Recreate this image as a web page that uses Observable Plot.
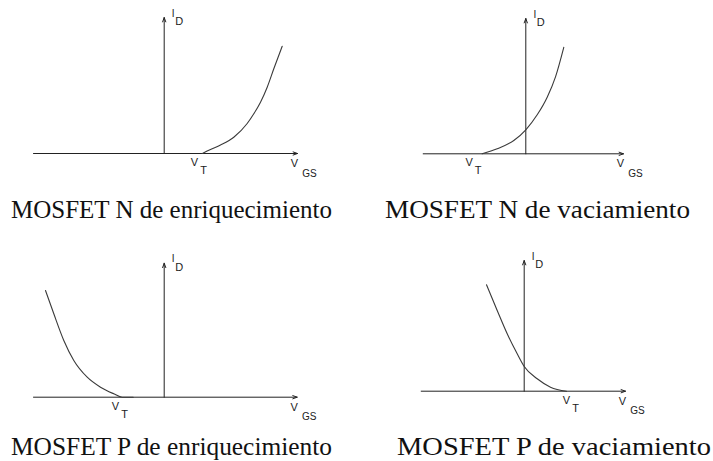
<!DOCTYPE html>
<html>
<head>
<meta charset="utf-8">
<script src="https://cdn.jsdelivr.net/npm/d3@7"></script>
<script src="https://cdn.jsdelivr.net/npm/@observablehq/plot@0.6"></script>
<style>
  body { margin: 0; background: #fff; }
  #fig { position: relative; width: 713px; height: 461px; overflow: hidden; background: #fff; }
  .panel { position: absolute; }
  #captions { position: absolute; left: 0; top: 0; }
  #captions text {
    font-family: "Liberation Serif", "Times New Roman", serif;
    font-size: 26px;
    fill: #111;
  }
</style>
</head>
<body>
<div id="fig"></div>
<script>
// Panel captions
const titles = [
  "MOSFET N de enriquecimiento",
  "MOSFET N de vaciamiento",
  "MOSFET P de enriquecimiento",
  "MOSFET P de vaciamiento"
];

// Threshold voltage V_T of each device (arbitrary units)
const vT = [3.8, -4.36, -4.2, 4.23];

// Transfer characteristic I_D(V_GS) for each device, [vGS, iD]
const curveNEnr = [[3.8,0],[4.63,0.4],[5.63,0.85],[6.96,1.63],[8.3,3.0],[8.96,3.97],[9.63,5.13],[10.3,6.63],[10.96,8.47],[11.8,10.73]];
const curveNVac = [[-4.36,0],[-2.86,0.5],[-1.2,1.33],[0,2.4],[1.14,3.9],[2.14,5.66],[2.97,7.7],[3.8,10.66]];
const curvePEnr = [[-11.87,10.67],[-11.04,8.34],[-10.04,5.67],[-9.04,3.67],[-7.7,2.0],[-6.37,1.0],[-5.04,0.34],[-4.2,0],[-3.1,0]];
const curvePVac = [[-3.77,10.64],[-2.7,8.07],[-1.7,5.74],[-0.7,3.74],[0,2.47],[1.3,1.24],[2.63,0.4],[4.23,0]];
const curves = [curveNEnr, curveNVac, curvePEnr, curvePVac];

// Extent of the V_GS axis and height of the I_D axis
const vgsAxis = [[-13.07, 13.33], [-10.26, 9.77], [-13.07, 13.3], [-10.3, 10.13]];
const idAxisTop = [13.6, 13.53, 13.4, 13.07];

// Axis labels: main letter and subscript
const axisLabels = { id: ["I", "D"], vt: ["V", "T"], vgs: ["V", "GS"] };

// Layout of each panel on the page (pixels); captions set by left edge, width and baseline
const layout = [
  { left: 0,   top: 0,   width: 357, height: 192, ox: 163.7, oy: 153,   vtV: -7.7, capX: 11,  capW: 321, capY: 218 },
  { left: 357, top: 0,   width: 356, height: 192, ox: 168.3, oy: 153.3, vtV: -13,  capX: 385, capW: 305, capY: 218 },
  { left: 0,   top: 236, width: 357, height: 192, ox: 163.7, oy: 160.7, vtV: -6.7, capX: 11,  capW: 321, capY: 455 },
  { left: 357, top: 236, width: 356, height: 192, ox: 166.7, oy: 154.7, vtV: 0,    capX: 397, capW: 314, capY: 455 }
];

const unit = 10; // pixels per data unit
const fig = document.getElementById("fig");
const labelFont = "Liberation Sans, DejaVu Sans, sans-serif";

layout.forEach((L, i) => {
  const [x0, x1] = vgsAxis[i];
  const yTop = idAxisTop[i];
  const pts = curves[i].map(([v, id]) => ({ v, id }));
  const vgsEnd = { x: x1, y: 0 };
  const idEnd = { x: 0, y: yTop };
  const vtPt = { x: vT[i], y: 0 };

  const chart = Plot.plot({
    width: L.width,
    height: L.height,
    margin: 0,
    x: { domain: [-L.ox / unit, (L.width - L.ox) / unit], axis: null },
    y: { domain: [-(L.height - L.oy) / unit, L.oy / unit], axis: null },
    style: { background: "transparent", overflow: "visible" },
    marks: [
      // V_GS axis
      Plot.arrow([{ x1: x0, y1: 0, x2: x1, y2: 0 }], {
        x1: "x1", y1: "y1", x2: "x2", y2: "y2",
        stroke: "#222", strokeWidth: 1, headLength: 7, headAngle: 40
      }),
      // I_D axis
      Plot.arrow([{ x1: 0, y1: 0, x2: 0, y2: yTop }], {
        x1: "x1", y1: "y1", x2: "x2", y2: "y2",
        stroke: "#222", strokeWidth: 1, headLength: 7, headAngle: 40
      }),
      // Transfer curve
      Plot.line(pts, { x: "v", y: "id", curve: "monotone-x", stroke: "#3a3a3a", strokeWidth: 1.1 }),
      // I_D label
      Plot.text([idEnd], { x: "x", y: "y", text: () => axisLabels.id[0], dx: 9, dy: -4, fontSize: 10, fontFamily: labelFont, fill: "#222" }),
      Plot.text([idEnd], { x: "x", y: "y", text: () => axisLabels.id[1], dx: 15, dy: 4, fontSize: 11, fontFamily: labelFont, fill: "#222" }),
      // V_T label
      Plot.text([vtPt], { x: "x", y: "y", text: () => axisLabels.vt[0], dx: L.vtV, dy: 9, fontSize: 11, fontFamily: labelFont, fill: "#222" }),
      Plot.text([vtPt], { x: "x", y: "y", text: () => axisLabels.vt[1], dx: L.vtV + 9, dy: 17, fontSize: 11, fontFamily: labelFont, fill: "#222" }),
      // V_GS label
      Plot.text([vgsEnd], { x: "x", y: "y", text: () => axisLabels.vgs[0], dx: -3, dy: 10, fontSize: 11, fontFamily: labelFont, fill: "#222" }),
      Plot.text([vgsEnd], { x: "x", y: "y", text: () => axisLabels.vgs[1], dx: 12, dy: 20, fontSize: 10, fontFamily: labelFont, fill: "#222" })
    ]
  });

  const wrap = document.createElement("div");
  wrap.className = "panel";
  wrap.style.left = L.left + "px";
  wrap.style.top = L.top + "px";
  wrap.appendChild(chart);
  fig.appendChild(wrap);
});

// Captions under each panel, stretched to the panel's caption width
const svg = d3.select(fig).append("svg")
  .attr("id", "captions")
  .attr("width", 713)
  .attr("height", 461);
svg.selectAll("text")
  .data(titles)
  .join("text")
  .attr("x", (d, i) => layout[i].capX)
  .attr("y", (d, i) => layout[i].capY)
  .attr("textLength", (d, i) => layout[i].capW)
  .attr("lengthAdjust", "spacingAndGlyphs")
  .text(d => d);
</script>
</body>
</html>
